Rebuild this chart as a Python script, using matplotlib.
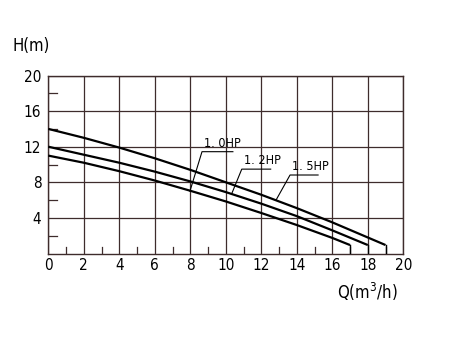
import matplotlib
matplotlib.use("Agg")
import matplotlib.pyplot as plt

plt.rcParams['font.family'] = ['DejaVu Sans']
plt.rcParams['font.stretch'] = 'condensed'

# Data
q_15 = [0, 2, 4, 6, 8, 10, 12, 14, 16, 18, 19]
h_15 = [14.0, 13.0, 11.9, 10.7, 9.4, 8.0, 6.6, 5.1, 3.5, 1.8, 0.95]
q_12 = [0, 2, 4, 6, 8, 10, 12, 14, 16, 18]
h_12 = [12.0, 11.1, 10.2, 9.2, 8.1, 6.9, 5.6, 4.2, 2.6, 0.95]
q_10 = [0, 2, 4, 6, 8, 10, 12, 14, 16, 17]
h_10 = [11.0, 10.2, 9.25, 8.2, 7.05, 5.85, 4.55, 3.2, 1.75, 0.95]
labels = ["1.0HP", "1.2HP", "1.5HP"]
x_ticks = list(range(0, 21, 2))
y_ticks = [4, 8, 12, 16, 20]

grid_c = '#3e2c2c'
fig = plt.figure(figsize=(4.5, 3.38), dpi=100)
ax = fig.add_axes([0.1073, 0.25, 0.7889, 0.5266])
ax.set_xlim(0, 20)
ax.set_ylim(0, 20)

for x in x_ticks:
    ax.axvline(x, color=grid_c, lw=0.9, zorder=1)
for y in y_ticks:
    ax.axhline(y, color=grid_c, lw=0.9, zorder=1)
# minor ticks inside
for x in range(1, 20, 2):
    ax.plot([x, x], [0, 0.75], color=grid_c, lw=0.9, zorder=1)
for y in [2, 6, 10, 14, 18]:
    ax.plot([0, 0.5], [y, y], color=grid_c, lw=0.9, zorder=1)

for spine in ax.spines.values():
    spine.set_color(grid_c)
    spine.set_linewidth(1.0)

for q, h in [(q_15, h_15), (q_12, h_12), (q_10, h_10)]:
    ax.plot(q, h, color='black', lw=1.6, zorder=3, solid_capstyle='butt')
    ax.plot([q[-1], q[-1]], [h[-1], 0], color='black', lw=1.0, zorder=3)

# annotations: (leader start on curve, underline start, underline end)
ann = [
    (labels[0], (7.98, 7.0), (8.66, 11.44), (10.4, 11.44)),
    (labels[1], (10.33, 6.7), (10.9, 9.48), (12.53, 9.48)),
    (labels[2], (12.83, 6.0), (13.62, 8.82), (15.2, 8.82)),
]
for lab, p0, p1, p2 in ann:
    ax.plot([p0[0], p1[0], p2[0]], [p0[1], p1[1], p2[1]], color='black', lw=0.8, zorder=4)
    ax.text(p1[0] + 0.1, p1[1] + 0.2, lab.replace('.', '. '), fontsize=9,
            ha='left', va='bottom', color='black')

ax.set_xticks(x_ticks)
ax.set_yticks(y_ticks)
ax.tick_params(length=0, labelsize=11, colors='black')
ax.tick_params(axis='x', pad=3)
ax.tick_params(axis='y', pad=5)
ax.set_xticklabels([str(v) for v in x_ticks])
ax.set_yticklabels([str(v) for v in y_ticks])

ax.text(-0.97, 23.3, "H(m)", fontsize=12, ha='center', va='center', clip_on=False)
ax.text(18.0, -4.3, "Q(m$^3$/h)", fontsize=12, ha='center', va='center', clip_on=False)

fig.savefig("out.png", dpi=100)
